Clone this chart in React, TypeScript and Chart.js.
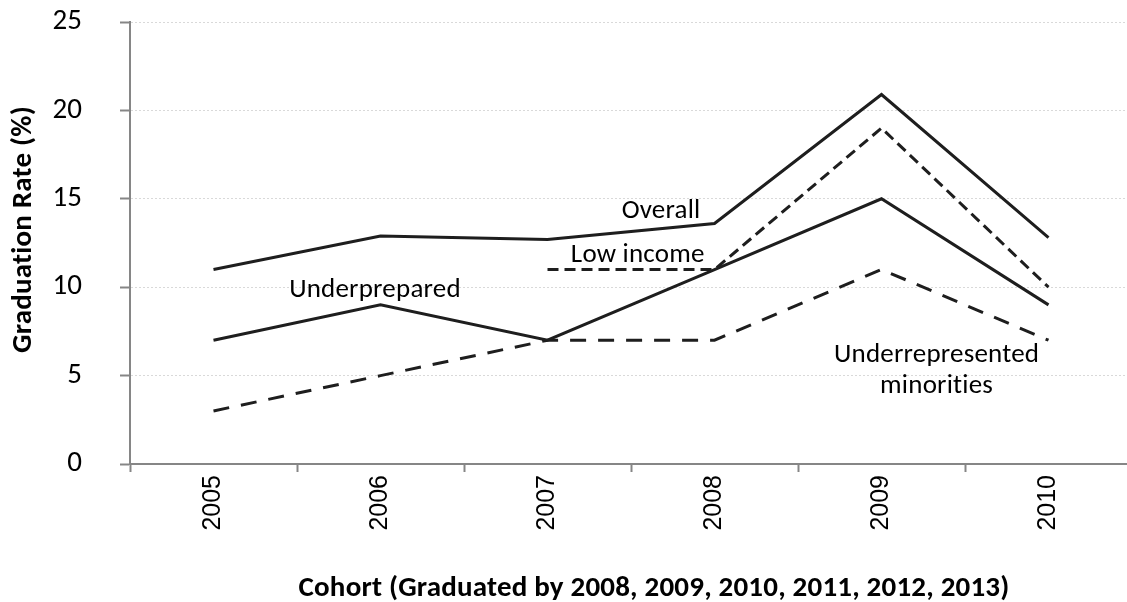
import React, { useEffect, useRef } from 'react';
import { Chart, registerables } from 'chart.js';

Chart.register(...registerables);

const categories = ['2005', '2006', '2007', '2008', '2009', '2010'];
const overall = [11, 12.9, 12.7, 13.6, 20.9, 12.8];
const underprepared = [7, 9, 7, 11, 15, 9];
const lowIncome = [null, null, 11, 11, 19, 10];
const minorities = [3, 5, 7, 7, 11, 7];

const yMin = 0;
const yMax = 25;
const yStep = 5;

const labelTexts = ['Overall', 'Low income', 'Underprepared', 'Underrepresented', 'minorities'];
const labelIdx = [2.68, 2.54, 0.967, 4.33, 4.33];
const labelVal = [13.91, 11.43, 9.47, 5.77, 4.02];

const xTitle = 'Cohort (Graduated by 2008, 2009, 2010, 2011, 2012, 2013)';
const yTitle = 'Graduation Rate (%)';

const FONT = 'Carlito, Calibri, Lato, sans-serif';
const TICK_FONT = 'Arial, "Liberation Sans", sans-serif';
const LINE = '#1e1e1e';
const AXIS = '#868686';

const labelPlugin = {
  id: 'labelPlugin',
  afterDatasetsDraw(chart: any) {
    const { ctx, scales, chartArea } = chart;
    const x = scales.x;
    const y = scales.y;
    ctx.save();
    try { (ctx as any).letterSpacing = '0.2px'; } catch (e) {}
    ctx.fillStyle = '#000';
    ctx.textAlign = 'center';
    ctx.textBaseline = 'alphabetic';
    ctx.font = `27px ${FONT}`;
    labelTexts.forEach((t, i) => {
      ctx.fillText(t, x.getPixelForValue(labelIdx[i]), y.getPixelForValue(labelVal[i]));
    });
    ctx.font = `bold 29px ${FONT}`;
    ctx.fillText(xTitle, chartArea.left + 524, 596);
    ctx.translate(24, chartArea.top + (chartArea.bottom - chartArea.top) / 2 - 13.5);
    ctx.rotate(-Math.PI / 2);
    ctx.textBaseline = 'middle';
    ctx.fillText(yTitle, 0, 0);
    ctx.restore();
  },
};

export default function App() {
  const ref = useRef<HTMLCanvasElement | null>(null);
  useEffect(() => {
    if (!ref.current) return;
    const common = {
      borderColor: LINE,
      borderWidth: 3,
      pointRadius: 0,
      tension: 0,
      fill: false,
      borderJoinStyle: 'miter' as const,
      spanGaps: false,
    };
    const chart = new Chart(ref.current, {
      type: 'line',
      data: {
        labels: categories,
        datasets: [
          { label: 'Overall', data: overall, ...common },
          { label: 'Underprepared', data: underprepared, ...common },
          { label: 'Low income', data: lowIncome as any, ...common, borderDash: [11, 6] },
          { label: 'Underrepresented minorities', data: minorities, ...common, borderDash: [16, 12] },
        ],
      },
      options: {
        responsive: false,
        animation: false,
        layout: { padding: { top: 22, right: 0, left: 0, bottom: 0 } },
        plugins: { legend: { display: false }, tooltip: { enabled: false } },
        scales: {
          x: {
            offset: true,
            afterFit: (s: any) => {
              s.height = 138;
              s.paddingLeft = 0;
              s.paddingRight = 0;
            },
            grid: {
              display: true,
              drawOnChartArea: false,
              drawTicks: true,
              offset: true,
              tickLength: 8,
              tickColor: AXIS,
              tickWidth: 2,
              color: AXIS,
            },
            border: { display: true, color: AXIS, width: 2 },
            ticks: {
              autoSkip: false,
              minRotation: 90,
              maxRotation: 90,
              padding: 3,
              color: '#000',
              font: { family: TICK_FONT, size: 25 },
            },
          },
          y: {
            min: yMin,
            max: yMax,
            afterFit: (s: any) => {
              s.width = 130;
              s.paddingTop = 10;
              s.paddingBottom = 10;
            },
            grid: {
              color: (c: any) => (c.tick && c.tick.value === 0 ? 'rgba(0,0,0,0)' : '#d9d9d9'),
              lineWidth: 1,
              tickLength: 10,
              tickColor: AXIS,
              tickWidth: 2,
              tickBorderDash: [],
            },
            border: { display: true, color: AXIS, width: 2, dash: [2, 2] },
            ticks: {
              stepSize: yStep,
              padding: 38,
              color: '#000',
              font: { family: FONT, size: 29 },
            },
          },
        },
      },
      plugins: [labelPlugin],
    });
    return () => chart.destroy();
  }, []);
  return (
    <div style={{ position: 'absolute', left: 0, top: 0, width: 1127, height: 602, overflow: 'hidden', background: '#fff' }}>
      <canvas ref={ref} width={1132} height={602} style={{ display: 'block' }} />
    </div>
  );
}
